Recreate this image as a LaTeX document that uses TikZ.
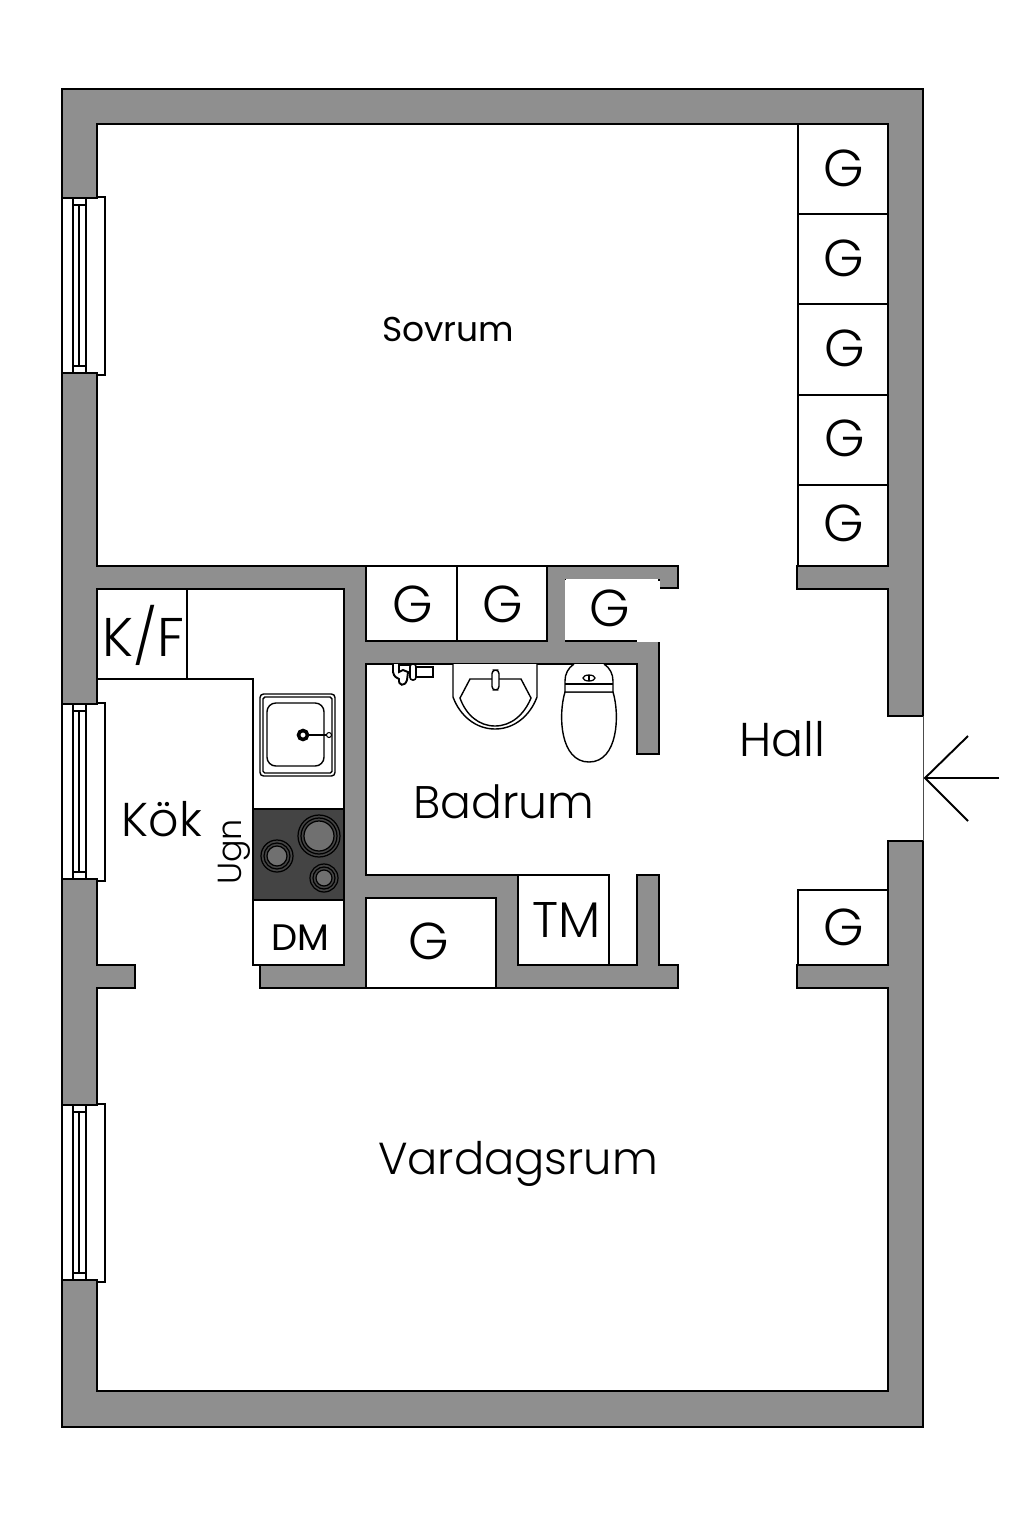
\documentclass[tikz,border=0pt]{standalone}
\usepackage{fontspec}
\setmainfont{Poppins}[UprightFont=* Light]
\newfontfamily\sovfont{Poppins}
\definecolor{wallgray}{HTML}{8F8F8F}
\definecolor{hobgray}{HTML}{444444}
\definecolor{plategray}{HTML}{707070}
\tikzset{
	wall/.style={draw=black, line width=1.1pt, fill=wallgray},
	room/.style={draw=black, line width=1.1pt, fill=white},
	unit/.style={draw=black, line width=0.7pt, fill=white},
	fixture/.style={draw=black, line width=0.8pt, fill=white},
	pale/.style={draw=white, line width=1.6pt},
	txt/.style={inner sep=0pt, font=\fontsize{27}{27}\selectfont},
	gtxt/.style={inner sep=0pt, font=\fontsize{29.5}{29.5}\selectfont},
}
\begin{document}
\begin{tikzpicture}[x=0.02cm, y=-0.02cm]
	\useasboundingbox (0,0) rectangle (1024,1522);

	% ytterväggar
	\path[wall] (62,89) rectangle (923,1427);
	\path[room] (97,124) -- (888,124) -- (888,566) -- (797,566) -- (797,589) -- (888,589)
		-- (888,716) -- (923,716) -- (923,841) -- (888,841) -- (888,965) -- (797,965)
		-- (797,988) -- (888,988) -- (888,1391) -- (97,1391) -- (97,988) -- (135,988)
		-- (135,965) -- (97,965) -- (97,589) -- (344,589) -- (344,965) -- (260,965)
		-- (260,988) -- (678,988) -- (678,965) -- (659,965) -- (659,875) -- (637,875)
		-- (637,965) -- (518,965) -- (518,875) -- (366,875) -- (366,664) -- (637,664)
		-- (637,754) -- (659,754) -- (659,641) -- (566,641) -- (566,580) -- (659,580)
		-- (659,588) -- (678,588) -- (678,566) -- (97,566) -- cycle;

	% ingang
	\draw[pale, line width=2pt] (923,717) -- (923,840);
	\draw[black!70, line width=0.5pt] (923,716) -- (923,841);

	% fonster
	\foreach \y in {197,703,1104} {{
		\path[unit, line width=0.9pt] (97,\y) rectangle (105,\y+178);
		\path[unit, line width=0.9pt] (62,\y+1) rectangle (97,\y+176);
		\draw[pale, line width=1.5pt] (97,\y+2) -- (97,\y+175);
		\draw[line width=0.9pt] (73,\y+1) -- (73,\y+176);
		\draw[line width=0.6pt] (86,\y+1) -- (86,\y+176);
		\draw[line width=0.9pt] (79,\y+8) -- (79,\y+169);
		\draw[line width=0.6pt] (73,\y+8) -- (86,\y+8);
		\draw[line width=0.6pt] (73,\y+169) -- (86,\y+169);
	}}

	% garderober
	\foreach \ya/\yb in {124/214,214/304,304/395,395/485,485/566} {{
		\path[unit] (798,\ya) rectangle (888,\yb);
	}}
	\path[unit] (798,890) rectangle (888,965);
	\path[unit] (366,566) rectangle (457,641);
	\path[unit] (457,566) rectangle (547,641);
	\path[unit] (366,898) rectangle (496,988);
	\path[unit] (518,875) rectangle (609,965);
	\draw[pale] (566,580) -- (566,640);
	\draw[pale, line width=1pt] (566,580) -- (658,580);
	\draw[pale] (637,641) -- (659,641);
	\draw[pale] (659,642) -- (659,581);

	% kok
	\path[unit] (97,589) rectangle (187,679);
	\draw[line width=0.7pt] (187,679) -- (253,679) -- (253,965) -- (344,965);
	\draw[line width=0.7pt] (253,900) -- (344,900);
	\path[draw=black, line width=0.7pt, fill=hobgray] (253,809) rectangle (344,900);
	\foreach \cx/\cy/\ra/\rb/\rc in {319/836/21/18/15, 277/856/16/13/10, 324/878/14/11/8} {{
		\draw[line width=0.7pt] (\cx,\cy) circle (\ra);
		\draw[line width=0.7pt] (\cx,\cy) circle (\rb);
		\draw[line width=0.7pt, fill=plategray] (\cx,\cy) circle (\rc);
	}}

	% diskho
	\draw[line width=0.8pt, rounded corners=2pt] (260,694) rectangle (335,776);
	\draw[line width=0.8pt, rounded corners=1pt] (263,697) rectangle (332,773);
	\draw[line width=0.8pt, rounded corners=5pt] (267,703) rectangle (324,766);
	\draw[line width=1.6pt] (303,735) -- (326,735);
	\draw[line width=2pt, fill=white] (303,735) circle (4.5);
	\draw[line width=0.6pt, fill=white] (329,735) circle (2.5);

	% handfat
	\path[fixture] (453,664) -- (453,697) .. controls (460,716) and (476,729) .. (495,729)
		.. controls (514,729) and (530,716) .. (537,697) -- (537,664);
	\path[fixture] (470,679) -- (521,679) -- (531,698) .. controls (524,715) and (511,726) .. (495,726)
		.. controls (479,726) and (466,715) .. (460,698) -- cycle;
	\path[fixture, rounded corners=2pt] (492,670) rectangle (499,690);

	% toalett
	\path[fixture] (565,692) .. controls (558,715) and (560,762) .. (589,762)
		.. controls (618,762) and (620,715) .. (613,692) -- cycle;
	\path[fixture] (574,664) .. controls (568,668) and (565,674) .. (565,681) -- (565,692) -- (613,692) -- (613,681)
		.. controls (613,674) and (610,668) .. (604,664);
	\draw[line width=0.8pt] (565,684) -- (613,684);
	\draw[line width=0.7pt] (589,678) ellipse (6 and 3);
	\draw[line width=0.7pt] (589,675) -- (589,681);

	% blandare
	\path[fixture, line width=0.9pt] (412,667) rectangle (433,677);
	\path[fixture, line width=1.1pt] (393,664) -- (393,672) .. controls (394,677) and (397,678) .. (399,679)
		.. controls (398,686) and (405,687) .. (407,680) -- (408,672) -- (403,670) -- (399,672) -- (399,664);
	\path[fixture, line width=0.9pt, rounded corners=1.5pt] (410,664) rectangle (416,680);
	\draw[line width=1.4pt] (399,665) -- (410,665);

	% texter
	\node[font=\sovfont\fontsize{19.6}{19.6}\selectfont, inner sep=0pt] (sovrum) at (448,329) {Sovrum};
	\node[txt] (hall) at (782,739) {Hall};
	\node[txt, font=\fontsize{26}{26}\selectfont] (badrum) at (504,802) {Badrum};
	\node[txt] (kok) at (162,819) {Kök};
	\node[txt, font=\fontsize{25.5}{25.5}\selectfont] (vardagsrum) at (518,1164) {Vardagsrum};
	\node[txt, font=\fontsize{31}{31}\selectfont] (kf) at (143,635) {K/F};
	\node[txt, font=\fontsize{28.5}{28.5}\selectfont] (tm) at (567,920) {TM};
	\node[font=\sovfont\fontsize{21}{21}\selectfont, inner sep=0pt] (dm) at (300,938) {DM};
	\node[font=\fontsize{19}{19}\selectfont, inner sep=0pt, rotate=90] (ugn) at (234,852) {Ugn};
	\foreach \x/\y [count=\i] in {844/168,844/258,845/348,845/438,844/523,844/927,413/604,503/604,610/608,429/941} {{
		\node[gtxt] (g\i) at (\x,\y) {G};
	}}

	% pil
	\coordinate (tip) at (925,778);
	\coordinate (tail) at (999,778);
	\coordinate (armup) at (968,736);
	\coordinate (armdown) at (968,821);
	\draw[line width=1.1pt] (tail) -- (tip);
	\draw[line width=1.1pt] (armup) -- (tip) -- (armdown);
\end{tikzpicture}
\end{document}
